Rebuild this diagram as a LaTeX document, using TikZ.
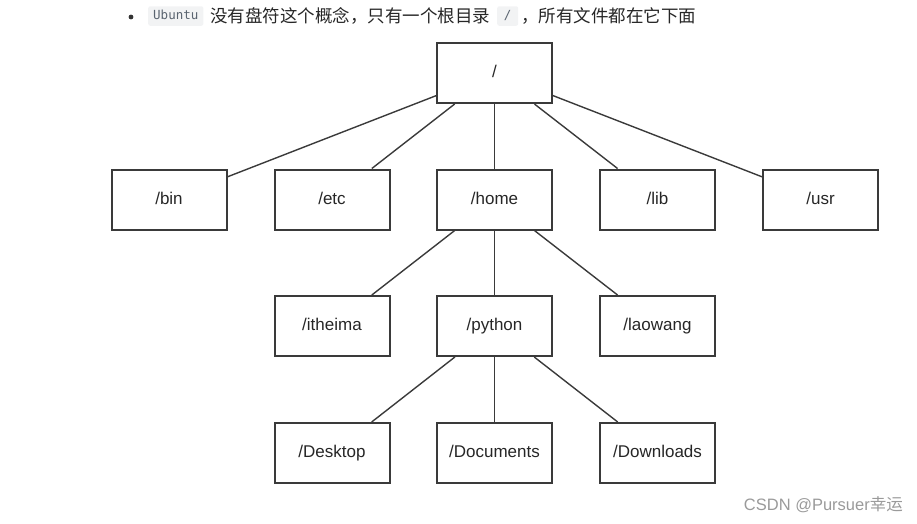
\documentclass[tikz,border=0pt]{standalone}
\usepackage{fontspec}
\setmainfont{Liberation Sans}
\newfontfamily\cjk{Noto Sans CJK SC}
\newfontfamily\codefont{DejaVu Sans Mono}
\definecolor{linegray}{HTML}{3A3A3A}
\definecolor{codebg}{HTML}{F2F3F4}
\definecolor{codefg}{HTML}{5A6470}
\definecolor{wmgray}{HTML}{9A9A9A}
\begin{document}
\begin{tikzpicture}[x=1pt,y=-1pt,
  dirbox/.style={draw=linegray, line width=2pt, minimum width=115pt, minimum height=60pt, inner sep=0pt, text height=12.5pt, text depth=3.5pt, font=\fontsize{17}{20}\selectfont, text=black!85},
  link/.style={draw=linegray, line width=1.4pt},
  codebox/.style={fill=codebg, rounded corners=2pt, inner xsep=5pt, inner ysep=4pt, text height=9pt, text depth=2.5pt, font=\codefont\fontsize{12.5}{14}\selectfont, text=codefg},
  cjktext/.style={font=\cjk\fontsize{17.5}{19}\selectfont, text=black!85, inner sep=0pt}]
\useasboundingbox (0,0) rectangle (917,523);
% header
\fill[black!80] (131,17) circle (2.4pt);
\node[codebox, anchor=west] (ubuntu) at (148,16) {Ubuntu};
\node[cjktext, anchor=west] (t1) at (210,16) {没有盘符这个概念，只有一个根目录};
\node[codebox, anchor=west, minimum width=21pt] (slash) at (497,16) {/};
\node[cjktext, anchor=west] (t2) at (521,16) {，所有文件都在它下面};
% tree
\node[dirbox] (root) at (494.5,73) {/};
\node[dirbox] (bin) at (169,199.5) {/bin};
\node[dirbox] (etc) at (332,199.5) {/etc};
\node[dirbox] (home) at (494.5,199.5) {/home};
\node[dirbox] (lib) at (657.5,199.5) {/lib};
\node[dirbox] (usr) at (820.5,199.5) {/usr};
\node[dirbox] (itheima) at (332,326) {/itheima};
\node[dirbox] (python) at (494.5,326) {/python};
\node[dirbox] (laowang) at (657.5,326) {/laowang};
\node[dirbox] (desktop) at (332,453) {/Desktop};
\node[dirbox] (documents) at (494.5,453) {/Documents};
\node[dirbox] (downloads) at (657.5,453) {/Downloads};
\foreach \c in {bin,etc,home,lib,usr}{\draw[link] (root) -- (\c);}
\foreach \c in {itheima,python,laowang}{\draw[link] (home) -- (\c);}
\foreach \c in {desktop,documents,downloads}{\draw[link] (python) -- (\c);}
% watermark
\node[anchor=east, inner sep=0pt, text=wmgray, font=\fontsize{16.5}{18}\selectfont] (wm) at (903,505) {CSDN @Pursuer{\cjk 幸运}};
\end{tikzpicture}
\end{document}
